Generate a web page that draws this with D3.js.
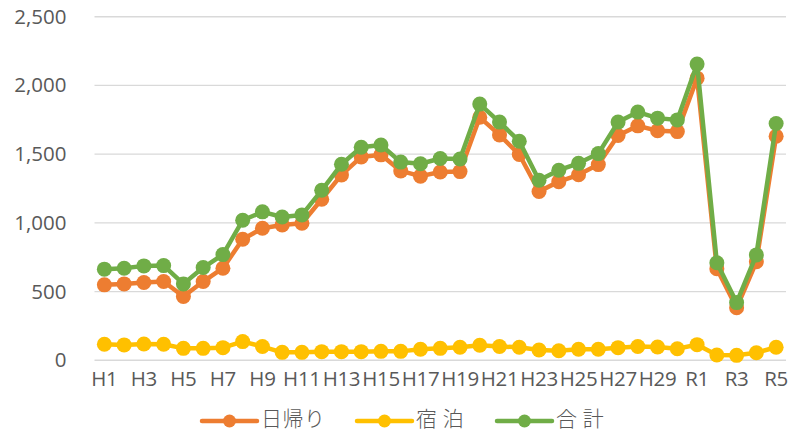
<!DOCTYPE html>
<html>
<head>
<meta charset="utf-8">
<script src="https://cdn.jsdelivr.net/npm/d3@7"></script>
<style>
  body { margin: 0; background: #fff; }
  #chart svg { display: block; }
</style>
</head>
<body>
<div id="chart"></div>
<script>
//categories (fiscal years)
var years = ["H1","H2","H3","H4","H5","H6","H7","H8","H9","H10",
    "H11","H12","H13","H14","H15","H16","H17","H18","H19","H20",
    "H21","H22","H23","H24","H25","H26","H27","H28","H29","H30",
    "R1","R2","R3","R4","R5"];

//series values
var dayTrip = [549,556,566,573,464,573,670,881,961,985,
    997,1172,1349,1480,1495,1378,1340,1370,1373,1768,
    1640,1497,1228,1300,1350,1424,1636,1706,1670,1664,
    2053,666,382,717,1630];
var overnight = [117,112,119,117,87,87,92,136,100,58,
    58,63,63,63,65,65,80,87,95,110,
    100,95,75,70,80,80,92,100,97,84,
    114,39,36,55,95];
var total = [663,670,687,689,556,675,769,1019,1080,1043,
    1058,1237,1426,1550,1566,1442,1430,1468,1465,1864,
    1733,1594,1310,1383,1433,1504,1733,1806,1762,1749,
    2155,710,420,767,1723];

//tick labels
var yTicks = [0, 500, 1000, 1500, 2000, 2500];
var seriesNames = ["日帰り", "宿 泊", "合 計"];

//SVG sizes and margins
var width = 788,
    height = 432;
var margin = {top: 17, right: 2, bottom: 72, left: 94.5};

var svg = d3.select("#chart").append("svg")
    .attr("width", width)
    .attr("height", height);

var x = d3.scaleBand()
    .domain(years)
    .range([margin.left, width - margin.right]);

var y = d3.scaleLinear()
    .domain([0, 2500])
    .range([height - margin.bottom + 0.3, margin.top - 0.3]);

var fmt = d3.format(",");

//gridlines
svg.append("g")
    .selectAll("line")
    .data(yTicks)
    .enter().append("line")
    .attr("x1", margin.left)
    .attr("x2", width - margin.right)
    .attr("y1", function(d) { return y(d); })
    .attr("y2", function(d) { return y(d); })
    .attr("stroke", "#d9d9d9")
    .attr("stroke-width", 1.4);

//y axis labels
var yAxis = svg.append("g")
    .attr("transform", "translate(" + (margin.left - 28) + ",0)")
    .call(d3.axisLeft(y).tickValues(yTicks).tickFormat(fmt).tickSize(0).tickPadding(0));
yAxis.select(".domain").remove();
yAxis.selectAll("text")
    .attr("fill", "#595959")
    .style("font-family", "'Open Sans', sans-serif")
    .style("font-size", "20.5px");

//x axis labels, every other year
var xAxis = svg.append("g")
    .attr("transform", "translate(0," + (height - margin.bottom) + ")")
    .call(d3.axisBottom(x)
        .tickValues(years.filter(function(d, i) { return i % 2 === 0; }))
        .tickSize(0).tickPadding(11));
xAxis.select(".domain").remove();
xAxis.selectAll("text")
    .attr("fill", "#595959")
    .style("font-family", "'Open Sans', sans-serif")
    .style("font-size", "20.5px")
    .style("letter-spacing", "-0.3px");

var series = [
    {name: seriesNames[0], values: dayTrip, color: "#ed7d31"},
    {name: seriesNames[1], values: overnight, color: "#ffc000"},
    {name: seriesNames[2], values: total, color: "#70ad47"}
];

var line = d3.line()
    .x(function(d, i) { return x(years[i]) + x.bandwidth() / 2; })
    .y(function(d) { return y(d); });

//draw lines with markers
series.forEach(function(s) {
    var g = svg.append("g");
    g.append("path")
        .datum(s.values)
        .attr("d", line)
        .attr("fill", "none")
        .attr("stroke", s.color)
        .attr("stroke-width", 4.5)
        .attr("stroke-linejoin", "round");
    g.selectAll("circle")
        .data(s.values)
        .enter().append("circle")
        .attr("cx", function(d, i) { return x(years[i]) + x.bandwidth() / 2; })
        .attr("cy", function(d) { return y(d); })
        .attr("r", 7.5)
        .attr("fill", s.color);
});

//legend
var legendX = [202, 357, 497];
var legend = svg.append("g")
    .selectAll("g")
    .data(series)
    .enter().append("g")
    .attr("transform", function(d, i) { return "translate(" + legendX[i] + ",421)"; });
legend.append("line")
    .attr("x1", 0).attr("x2", 55)
    .attr("stroke", function(d) { return d.color; })
    .attr("stroke-width", 4.5)
    .attr("stroke-linecap", "round");
legend.append("circle")
    .attr("cx", 27.5)
    .attr("r", 6.5)
    .attr("fill", function(d) { return d.color; });
legend.append("text")
    .attr("x", 59)
    .attr("y", 5)
    .attr("fill", "#595959")
    .style("font-family", "'Noto Sans CJK JP', sans-serif")
    .style("font-size", "21px")
    .style("font-weight", "300")
    .style("letter-spacing", "0.5px")
    .text(function(d) { return d.name; });
</script>
</body>
</html>
